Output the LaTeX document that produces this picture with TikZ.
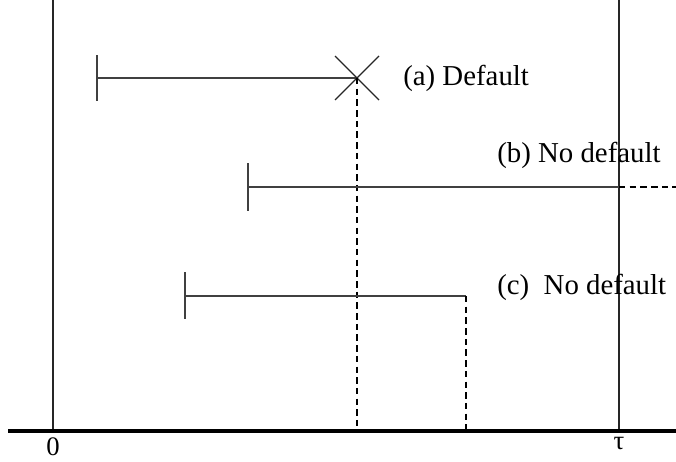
\documentclass[tikz,border=0pt]{standalone}
\usepackage{fontspec}
\setmainfont{Liberation Serif}
\usetikzlibrary{positioning}
\tikzstyle{timeline}=	[line width=2.6pt]
\tikzstyle{bound}=	[line width=0.9pt, draw=black!85]
\tikzstyle{loan}=	[line width=0.9pt, draw=black!75]
\tikzstyle{stop}=	[line width=0.9pt, draw=black, dash pattern=on 4.6pt off 3pt]
\tikzstyle{lbl}=	[inner sep=0pt, anchor=west, font=\fontsize{20.5}{24}\selectfont]
\tikzstyle{tlbl}=	[inner sep=0pt, anchor=north, font=\fontsize{19}{22}\selectfont]

\begin{document}
\begin{tikzpicture}[x=0.025cm, y=-0.025cm]

	\useasboundingbox (0,0) rectangle (676,461);

	%%% time axis
	\coordinate (ax0) at (8,431);
	\coordinate (ax1) at (676,431);
	\coordinate (t0) at (53,431);
	\coordinate (t0top) at (53,0);
	\coordinate (tau) at (619,431);
	\coordinate (tautop) at (619,0);
	\coordinate (da) at (357,431);
	\coordinate (dc) at (466,431);

	\draw[bound] (t0top) -- (t0);
	\draw[bound] (tautop) -- (tau);
	\draw[timeline] (ax0) -- (ax1);

	\node[tlbl] (n0) at (53,437) {0};
	\node[tlbl] (ntau) at (619,437) {τ};

	%%% (a) default
	\coordinate (a0) at (97,78);
	\coordinate (a0u) at (97,55);
	\coordinate (a0d) at (97,101);
	\coordinate (a1) at (357,78);
	\coordinate (xa) at (335,56);
	\coordinate (xb) at (379,100);
	\coordinate (xc) at (379,56);
	\coordinate (xd) at (335,100);

	\draw[loan] (a0u) -- (a0d);
	\draw[loan] (a0) -- (a1);
	\draw[bound] (xa) -- (xb);
	\draw[bound] (xc) -- (xd);
	\draw[stop] (a1) -- (da);

	\node[lbl] (la) at (403,78) {(a) Default};

	%%% (b) no default, beyond tau
	\coordinate (b0) at (248,187);
	\coordinate (b0u) at (248,163);
	\coordinate (b0d) at (248,211);
	\coordinate (b1) at (619,187);
	\coordinate (b2) at (676,187);

	\draw[loan] (b0u) -- (b0d);
	\draw[loan] (b0) -- (b1);
	\draw[stop] (b1) -- (b2);

	\node[lbl] (lb) at (497,155) {(b) No default};

	%%% (c) no default, ends before tau
	\coordinate (c0) at (185,296);
	\coordinate (c0u) at (185,272);
	\coordinate (c0d) at (185,319);
	\coordinate (c1) at (466,296);

	\draw[loan] (c0u) -- (c0d);
	\draw[loan] (c0) -- (c1);
	\draw[stop] (c1) -- (dc);

	\node[lbl] (lc) at (497,287) {(c)\ \ No default};

\end{tikzpicture}
\end{document}
